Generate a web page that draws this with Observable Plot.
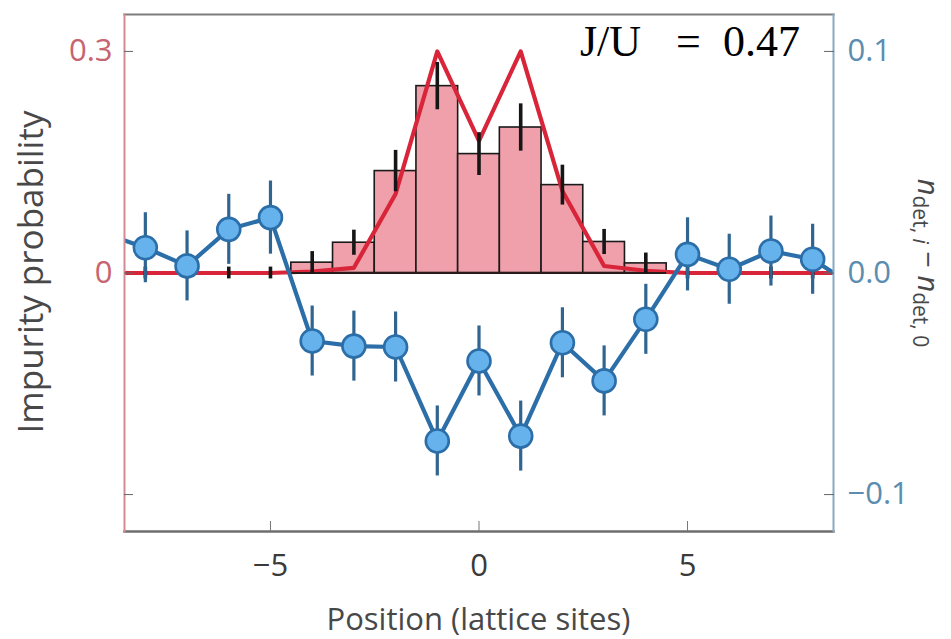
<!DOCTYPE html>
<html>
<head>
<meta charset="utf-8">
<script src="https://cdn.jsdelivr.net/npm/d3@7"></script>
<script src="https://cdn.jsdelivr.net/npm/@observablehq/plot@0.6"></script>
<style>
  html, body { margin: 0; padding: 0; background: #ffffff; }
  #chart svg { display: block; }
</style>
</head>
<body>
<div id="chart"></div>
<script>
// Lattice sites (the outermost ones lie just outside the visible window)
const positions = [-9, -8, -7, -6, -5, -4, -3, -2, -1, 0, 1, 2, 3, 4, 5, 6, 7, 8, 9];

// Measured impurity probability per site (left axis) and its error
const impurityProb = [0, 0, 0, 0, 0, 0.014, 0.041, 0.138, 0.253, 0.161, 0.197, 0.119, 0.042, 0.013, 0, 0, 0, 0, 0];
const impurityErr  = [0.008, 0.008, 0.008, 0.008, 0.008, 0.015, 0.017, 0.028, 0.032, 0.029, 0.032, 0.027, 0.017, 0.014, 0.008, 0.008, 0.008, 0.008, 0.008];

// Theory curve for the impurity probability (left axis)
const theoryProb = [0, 0, 0, 0, 0, 0.002, 0.007, 0.107, 0.3, 0.179, 0.3, 0.111, 0.0095, 0.003, 0, 0, 0, 0, 0];

// Detected density difference n_det,i − n_det,0 (right axis) and its error
const detDiff = [0.018, 0.0114, 0.0032, 0.0197, 0.025, -0.0307, -0.033, -0.0334, -0.0758, -0.0397, -0.0736, -0.0315, -0.0487, -0.0209, 0.0084, 0.0017, 0.0099, 0.0062, -0.006];
const detErr  = [0.0158, 0.0158, 0.0158, 0.0158, 0.0165, 0.0158, 0.0158, 0.0158, 0.0158, 0.0158, 0.0158, 0.0158, 0.0158, 0.0158, 0.0165, 0.0158, 0.0158, 0.0158, 0.0158];

// Axes
const xDomain = [-8.5, 8.5];
const leftDomain = [-0.35, 0.35];
const axisRatio = 3; // one right-axis unit spans three left-axis units
const xTicks = [-5, 0, 5];
const xTickLabels = ["\u22125", "0", "5"];
const leftTicks = [-0.3, 0, 0.3];
const leftTickLabels = ["", "0", "0.3"];
const rightTicks = [-0.1, 0, 0.1];
const rightTickLabels = ["\u22120.1", "0.0", "0.1"];
const xTitle = "Position (lattice sites)";
const leftTitle = "Impurity probability";
const couplingLabel = ["J/U", "=", "0.47"];

const sites = positions.map((p, i) => ({
  pos: p,
  prob: impurityProb[i],
  err: impurityErr[i],
  theory: theoryProb[i],
  diff: detDiff[i],
  diffErr: detErr[i]
}));
const barSites = sites.filter(d => d.prob > 0);
const barMin = d3.min(barSites, d => d.pos) - 0.5;
const barMax = d3.max(barSites, d => d.pos) + 0.5;

const RED = "#d8253a";
const BAR_FILL = "#f0a0aa";
const BLUE_LINE = "#2b6ea8";
const BLUE_FILL = "#66b2ec";
const BLUE_ERR = "#2f6590";
const TITLE_GREY = "#484848";

const chart = Plot.plot({
  width: 951,
  height: 639,
  marginLeft: 124,
  marginRight: 118,
  marginTop: 14,
  marginBottom: 108,
  style: { fontFamily: "'Open Sans', sans-serif", fontSize: "31px", background: "#ffffff" },
  x: { domain: xDomain },
  y: { domain: leftDomain },
  marks: [
    // histogram of measured impurity probability
    Plot.rectY(barSites, {
      x1: d => d.pos - 0.5, x2: d => d.pos + 0.5, y: "prob",
      fill: BAR_FILL, stroke: "#1a1a1a", strokeWidth: 1.6
    }),
    // theory curve
    Plot.line(sites, { x: "pos", y: "theory", stroke: RED, strokeWidth: 4.2, clip: true }),
    Plot.ruleY([0], { x1: barMin, x2: barMax, stroke: "#2a1a1a", strokeWidth: 1.8 }),
    // error bars of the impurity probability
    Plot.ruleX(sites, {
      x: "pos", y1: d => d.prob - d.err, y2: d => d.prob + d.err,
      stroke: "#161616", strokeWidth: 3.6, clip: true
    }),
    // density difference, plotted on the right-hand scale
    Plot.line(sites, { x: "pos", y: d => d.diff * axisRatio, stroke: BLUE_LINE, strokeWidth: 4.2, clip: true }),
    Plot.ruleX(sites, {
      x: "pos",
      y1: d => (d.diff - d.diffErr) * axisRatio,
      y2: d => (d.diff + d.diffErr) * axisRatio,
      stroke: BLUE_ERR, strokeWidth: 3.2, clip: true
    }),
    Plot.dot(sites, {
      x: "pos", y: d => d.diff * axisRatio, r: 11.5,
      fill: BLUE_FILL, stroke: BLUE_LINE, strokeWidth: 2.6, clip: true
    }),
    // frame: grey top/bottom, red left, blue right
    Plot.frame({ anchor: "top", stroke: "#7c7c7c", strokeWidth: 2.2 }),
    Plot.frame({ anchor: "bottom", stroke: "#6e6e6e", strokeWidth: 2.4 }),
    Plot.frame({ anchor: "left", stroke: "#d48a92", strokeWidth: 2 }),
    Plot.frame({ anchor: "right", stroke: "#86a9c4", strokeWidth: 2 }),
    // axes
    Plot.axisX(xTicks, {
      anchor: "bottom", tickSize: -10, tickPadding: 32,
      stroke: "#777", fill: "#3a3a3a",
      tickFormat: d => xTickLabels[xTicks.indexOf(d)],
      label: null
    }),
    Plot.axisY(leftTicks, {
      anchor: "left", tickSize: -9, tickPadding: 21,
      stroke: "#666", fill: "#c8646f",
      tickFormat: d => leftTickLabels[leftTicks.indexOf(d)],
      label: null
    }),
    Plot.axisY(rightTicks.map(v => v * axisRatio), {
      anchor: "right", tickSize: -10, tickPadding: 24,
      stroke: "#666", fill: "#5b8db0",
      tickFormat: d => rightTickLabels[rightTicks.indexOf(Math.round(d / axisRatio * 10) / 10)],
      label: null
    })
  ]
});

document.getElementById("chart").appendChild(chart);

const svg = d3.select(chart);
const font = "'Open Sans', sans-serif";

// bottom axis title
svg.append("text")
  .attr("x", 478.5).attr("y", 630)
  .attr("text-anchor", "middle")
  .attr("fill", TITLE_GREY)
  .style("font-family", font).style("font-size", "31px")
  .text(xTitle);

// left axis title
svg.append("text")
  .attr("transform", "translate(43,272) rotate(-90)")
  .attr("text-anchor", "middle")
  .attr("fill", TITLE_GREY)
  .style("font-family", font).style("font-size", "35px")
  .text(leftTitle);

// right axis title: n_det,i − n_det,0, reading downwards
const rl = svg.append("text")
  .attr("transform", "translate(918,263) rotate(90)")
  .attr("text-anchor", "middle")
  .attr("fill", TITLE_GREY)
  .style("font-family", font)
  .style("font-size", "29px");
rl.append("tspan").style("font-style", "italic").text("n");
rl.append("tspan").attr("dy", 5).style("font-size", "21px").text("det, ");
rl.append("tspan").style("font-size", "21px").style("font-style", "italic").text("i");
rl.append("tspan").attr("dy", -5).text(" \u2212 ");
rl.append("tspan").style("font-style", "italic").text("n");
rl.append("tspan").attr("dy", 5).style("font-size", "21px").text("det, 0");

// coupling ratio annotation
const ju = svg.append("text")
  .attr("y", 56)
  .attr("text-anchor", "start")
  .attr("fill", "#000")
  .style("font-family", "'Liberation Serif', 'DejaVu Serif', serif")
  .style("font-size", "44px");
ju.append("tspan").attr("x", 580).text(couplingLabel[0]);
ju.append("tspan").attr("x", 676).text(couplingLabel[1]);
ju.append("tspan").attr("x", 723).text(couplingLabel[2]);
</script>
</body>
</html>
